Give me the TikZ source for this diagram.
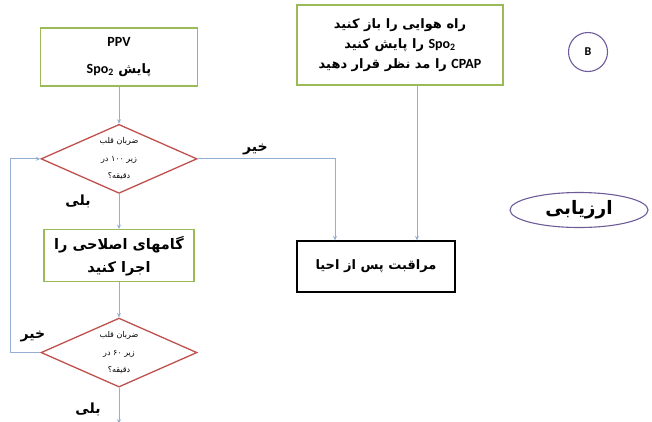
\documentclass[tikz,border=0pt]{standalone}
\usepackage{fontspec}
\setmainfont{Carlito}
\newfontfamily\fa[Script=Arabic]{DejaVu Sans}
\TeXXeTstate=1
\usetikzlibrary{positioning, arrows.meta, shapes.geometric}
\definecolor{boxgreen}{HTML}{9BBB59}
\definecolor{condred}{HTML}{C0504D}
\definecolor{linkblue}{HTML}{95AED6}
\definecolor{markpurple}{HTML}{6E5C99}
\newcommand{\rtl}[1]{{\fa\beginR #1\endR}}
\newcommand{\lat}[1]{\beginL{\normalfont\bfseries\fontsize{14}{14}\selectfont #1}\endL}

\begin{document}
\begin{tikzpicture}[
    x=1pt, y=-1pt,
    box/.style={draw=boxgreen, line width=1.4pt, fill=white, align=center, font=\bfseries\fontsize{13}{20}\selectfont, minimum width=157pt, minimum height=58pt},
    cond/.style={draw=condred, line width=1.3pt, fill=white, diamond, aspect=2.2, inner sep=0pt, align=center, font=\fontsize{8}{17.5}\selectfont, minimum width=156pt, minimum height=69pt},
    resultbox/.style={draw, line width=1.3pt, align=center, font=\bfseries\fontsize{13}{16}\selectfont, minimum width=158pt, minimum height=51pt},
    tagshape/.style={draw=markpurple, line width=1.1pt, ellipse, align=center, font=\bfseries\fontsize{18.5}{20}\selectfont},
    note/.style={font=\bfseries\fontsize{14}{16}\selectfont, inner sep=1pt},
    arr/.style={-{Stealth[length=4.5pt, width=4pt]}, draw=linkblue, line width=0.8pt}
  ]
    \useasboundingbox (0,0) rectangle (652,421);

    \node[box, font=\bfseries\fontsize{13}{27}\selectfont] (ppv) at (119,57) {\lat{PPV}\\\rtl{پایش \lat{Spo\textsubscript{2}}}};
    \node[cond, below=37pt of ppv] (hr100) {\rtl{ضربان قلب}\\\rtl{زیر ۱۰۰ در}\\\rtl{دقیقه؟}};
    \node[box, below=35pt of hr100, minimum height=52pt, minimum width=150pt, font=\bfseries\fontsize{14.5}{23}\selectfont] (fix) {\rtl{گامهای اصلاحی را}\\\rtl{اجرا کنید}};
    \node[cond, below=35pt of fix] (hr60) {\rtl{ضربان قلب}\\\rtl{زیر ۶۰ در}\\\rtl{دقیقه؟}};
    \coordinate[below=36pt of hr60] (next);

    \node[box, minimum width=206pt, minimum height=80pt] (airway) at (400,45) {\rtl{راه هوایی را باز کنید}\\\rtl{\lat{Spo\textsubscript{2}} را پایش کنید}\\\rtl{\lat{CPAP} را مد نظر قرار دهید}};
    \node[resultbox] (post) at (376,266.5) {\rtl{مراقبت پس از احیا}};

    \node[tagshape, circle, minimum size=39pt, inner sep=0pt, font=\bfseries\fontsize{12}{12}\selectfont] (stageB) at (588,52) {B};
    \node[tagshape, minimum width=138pt, minimum height=35pt, inner sep=0pt] (assess) at (579,210) {\rtl{ارزیابی}};

    \draw[arr] (ppv)--(hr100);
    \draw[arr] (hr100)--(fix) node[note, pos=0.2, left=27pt] {\rtl{بلی}};
    \draw[arr] (fix)--(hr60);
    \draw[arr] (hr60)--(next) node[note, pos=0.6, left=17pt] {\rtl{بلی}};
    \draw[arr] (hr100.east) -| ([xshift=-41pt]post.north) node[note, pos=0.21, above=3pt] {\rtl{خیر}};
    \draw[arr] (hr60.west) -- ++(-30,0) node[note, pos=0.25, above=9pt] {\rtl{خیر}} |- (hr100.west);
    \draw[arr] ([xshift=17pt]airway.south)--([xshift=41pt]post.north);
  \end{tikzpicture}
\end{document}
